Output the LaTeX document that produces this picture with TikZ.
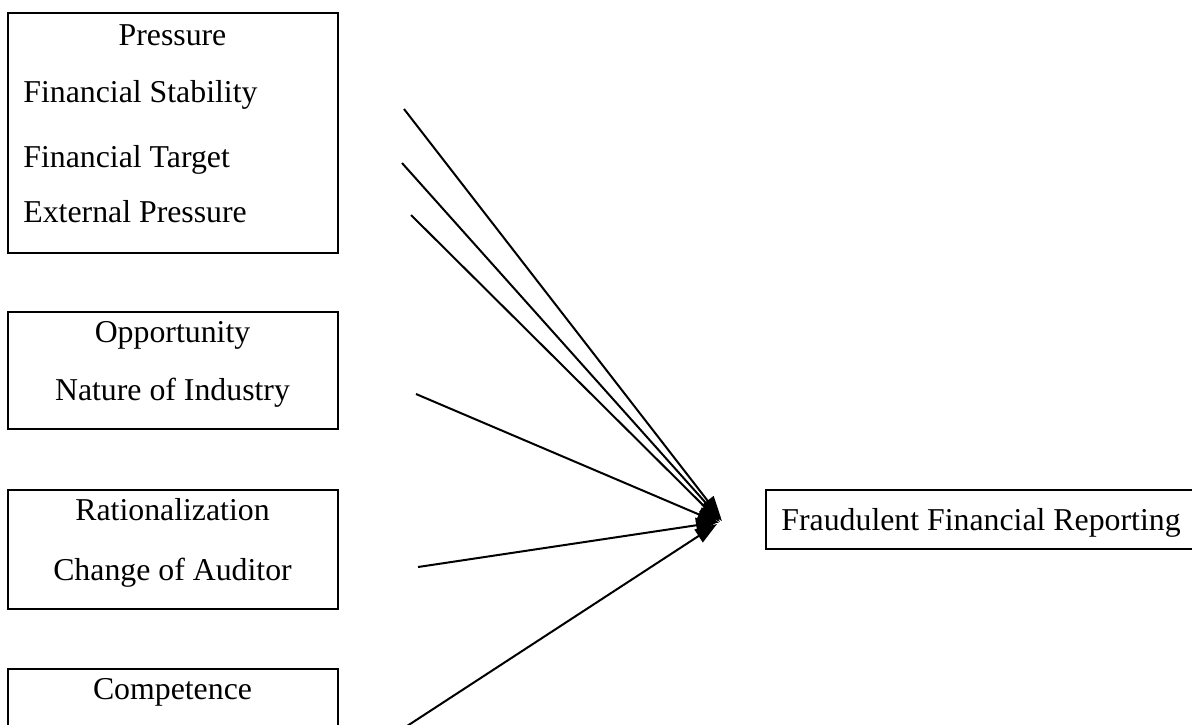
\documentclass[tikz,border=0pt]{standalone}
\usepackage{fontspec}
\setmainfont{Liberation Serif}
\usetikzlibrary{arrows.meta}
\begin{document}
\begin{tikzpicture}[x=0.5pt,y=-0.5pt,
  box/.style={draw, line width=1.4pt, inner sep=0pt},
  lbl/.style={inner sep=0pt, font=\fontsize{15.9}{19}\selectfont},
  conn/.style={line width=1pt, -{Triangle[length=11pt,width=7.5pt]}}]
\clip (0,0) rectangle (1192,724);
% boxes
\node[box, minimum width=165pt, minimum height=120pt] (pbox) at (173,133) {};
\node[box, minimum width=165pt, minimum height=58.5pt] (obox) at (173,370.5) {};
\node[box, minimum width=165pt, minimum height=59.5pt] (rbox) at (173,549.5) {};
\node[box, minimum width=165pt, minimum height=58.5pt] (cbox) at (173,727.5) {};
\node[box, minimum width=222pt, minimum height=29.5pt] (fbox) at (988,519.5) {};
% texts
\node[lbl, anchor=base] (t1) at (172.5,45) {Pressure};
\node[lbl, anchor=base west] (t2) at (23,102) {Financial Stability};
\node[lbl, anchor=base west] (t3) at (23,167) {Financial Target};
\node[lbl, anchor=base west] (t4) at (23,222) {External Pressure};
\node[lbl, anchor=base] (t5) at (172.5,342) {Opportunity};
\node[lbl, anchor=base] (t6) at (172.5,400) {Nature of Industry};
\node[lbl, anchor=base] (t7) at (172.5,520) {Rationalization};
\node[lbl, anchor=base] (t8) at (172.5,580) {Change of Auditor};
\node[lbl, anchor=base] (t9) at (172.5,699) {Competence};
\node[lbl, anchor=base west] (t10) at (781,530) {Fraudulent Financial Reporting};
% connectors
\coordinate (e1) at (721,518);
\coordinate (e2) at (722,521);
\coordinate (e3) at (720,522);
\coordinate (e4) at (719,523);
\coordinate (e5) at (718,522);
\coordinate (e6) at (717,524);
\coordinate (s1) at (404,109);
\coordinate (s2) at (402,163);
\coordinate (s3) at (411,215);
\coordinate (s4) at (416,394);
\coordinate (s5) at (418,567);
\coordinate (s6) at (404,728);
\foreach \i in {1,...,6} \draw[conn] (s\i) -- (e\i);
\end{tikzpicture}
\end{document}
